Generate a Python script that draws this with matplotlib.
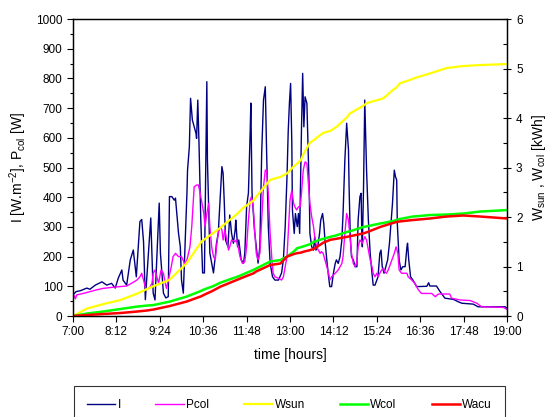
import numpy as np
import matplotlib
matplotlib.use("Agg")
import matplotlib.pyplot as plt
from matplotlib.ticker import MultipleLocator

plt.rcParams.update({"font.family": "Liberation Sans", "font.size": 8.5,
                     "mathtext.fontset": "custom", "mathtext.rm": "Liberation Sans",
                     "mathtext.default": "regular"})

# time in minutes after 7:00
t_I = [0, 5, 12, 23, 28, 37, 48, 56, 64, 70, 75, 81, 83, 89, 95, 100, 105, 111, 114, 117, 120,
       129, 133, 136, 143, 145, 150, 154, 158, 160, 164, 168, 170, 175, 178, 180, 183, 189, 190,
       193, 195, 198, 201, 204, 205, 207, 209, 212, 215, 218, 220, 222, 223, 227, 230, 233, 236,
       238, 241, 244, 247, 249, 251, 253, 257, 259, 260, 263, 266, 269, 270, 273, 275, 279, 283,
       285, 288, 291, 294, 295, 297, 301, 304, 307, 310, 313, 316, 319, 321, 324, 327, 331, 335,
       341, 346, 349, 352, 355, 357, 359, 361, 363, 364, 367, 369, 372, 374, 376, 378, 379, 381,
       383, 385, 388, 389, 392, 393, 396, 399, 401, 403, 406, 409, 411, 414, 416, 418, 421, 424,
       426, 429, 432, 435, 437, 440, 443, 446, 448, 451, 454, 457, 458, 460, 462, 465, 468, 471,
       473, 476, 478, 479, 480, 482, 483, 484, 487, 490, 493, 496, 498, 501, 504, 506, 509, 511,
       513, 516, 519, 522, 525, 528, 530, 533, 535, 537, 538, 541, 544, 547, 551, 554, 555, 557,
       560, 564, 567, 570, 587, 590, 592, 603, 609, 617, 631, 639, 645, 664, 672, 717, 720]
I = [71, 82, 85, 94, 90, 104, 115, 104, 110, 94, 127, 155, 121, 104, 189, 222, 132, 318, 325, 250, 55,
     330, 77, 54, 380, 212, 77, 61, 65, 402, 402, 390, 397, 279, 233, 121, 77, 414, 491,
     570, 733, 660, 637, 615, 598, 727, 582, 323, 145, 145, 469, 789, 525, 212, 178, 145, 200,
     245, 280, 390, 503, 480, 380, 256, 233, 301, 340, 279, 245, 290, 323, 233, 256, 189, 178,
     212, 368, 414, 626, 717, 414, 290, 233, 178, 233, 548, 727, 772, 570, 301, 178, 132, 121,
     121, 145, 189, 301, 469, 620, 716, 783, 581, 357, 278, 345, 301, 345, 278, 525, 626, 817,
     637, 738, 716, 637, 413, 278, 233, 222, 267, 222, 233, 278, 323, 345, 312, 256, 189, 132,
     99, 99, 144, 177, 189, 177, 200, 256, 345, 525, 649, 559, 435, 267, 200, 189, 166, 166,
     323, 402, 413, 290, 233, 435, 570, 727, 491, 323, 211, 144, 104, 104, 121, 132, 211, 222,
     166, 144, 166, 189, 245, 323, 379, 491, 469, 458, 312, 189, 155, 166, 166, 233, 245, 189,
     132, 121, 110, 99, 100, 112, 101, 101, 82, 60, 56, 48, 43, 40, 31, 31, 26]

t_P = [0, 2, 4, 6, 17, 28, 39, 50, 67, 78, 89, 97, 106, 111, 114, 117, 121, 127, 131, 133, 136,
       139, 142, 146, 150, 153, 155, 158, 163, 166, 170, 175, 180, 185, 189, 194, 197, 201, 205,
       208, 211, 214, 217, 219, 222, 225, 227, 230, 233, 236, 238, 241, 244, 247, 249, 252, 255,
       258, 260, 263, 269, 271, 274, 277, 281, 285, 288, 291, 294, 296, 299, 301, 304, 307, 310,
       313, 316, 319, 321, 324, 327, 330, 332, 335, 341, 346, 349, 352, 355, 357, 360, 363, 366,
       368, 371, 374, 377, 379, 382, 385, 388, 390, 393, 396, 399, 401, 404, 407, 410, 412, 415,
       418, 421, 424, 426, 429, 435, 440, 446, 448, 451, 454, 457, 460, 462, 465, 468, 471, 473,
       476, 480, 484, 487, 490, 493, 496, 498, 501, 504, 506, 509, 512, 515, 517, 520, 523, 529,
       533, 536, 539, 541, 545, 554, 556, 562, 567, 573, 578, 595, 601, 606, 625, 628, 642, 659,
       670, 678, 714, 720]
Pcol = [58, 68, 58, 71, 76, 82, 88, 93, 97, 99, 101, 110, 121, 132, 144, 121, 90, 95, 110, 144, 155,
        132, 110, 155, 144, 110, 93, 121, 166, 200, 211, 200, 200, 177, 189, 233, 301, 435, 441,
        441, 413, 379, 345, 301, 345, 379, 301, 233, 200, 189, 233, 278, 301, 290, 256, 290, 256,
        222, 233, 256, 250, 256, 233, 200, 177, 183, 233, 323, 390, 402, 368, 301, 211, 189, 211,
        323, 435, 491, 491, 413, 278, 189, 144, 132, 127, 121, 132, 166, 200, 278, 390, 424, 379,
        368, 357, 368, 368, 413, 491, 519, 514, 458, 379, 334, 301, 267, 233, 222, 211, 217, 211,
        189, 166, 144, 121, 132, 144, 155, 177, 200, 278, 345, 323, 256, 211, 177, 166, 183, 233,
        256, 245, 267, 256, 222, 189, 166, 144, 132, 144, 132, 144, 155, 161, 149, 144, 155, 189,
        211, 233, 211, 155, 144, 144, 132, 121, 110, 88, 76, 76, 65, 74, 74, 60, 54, 52,
        43, 31, 29, 22]

t_W = [0, 23, 50, 78, 106, 122, 133, 160, 188, 213, 216, 232, 244, 260, 272, 282, 299, 304, 327,
       344, 355, 366, 372, 378, 383, 393, 400, 415, 427, 437, 455, 459, 482, 487, 510, 515, 531,
       537, 542, 564, 565, 592, 620, 647, 648, 675, 720]
Wsun = [0, 0.15, 0.24, 0.32, 0.45, 0.54, 0.6, 0.73, 1.06, 1.5, 1.53, 1.67, 1.78, 1.94, 2.06, 2.18,
        2.33, 2.41, 2.75, 2.81, 2.88, 3.02, 3.08, 3.15, 3.29, 3.5, 3.56, 3.7, 3.74, 3.82, 4.02, 4.09,
        4.25, 4.3, 4.38, 4.4, 4.57, 4.62, 4.7, 4.79, 4.8, 4.9, 5.01, 5.05, 5.05, 5.07, 5.09]
Wcol = [0, 0.05, 0.09, 0.14, 0.19, 0.21, 0.22, 0.29, 0.39, 0.51, 0.53, 0.6, 0.67, 0.74, 0.79, 0.84,
        0.93, 0.96, 1.1, 1.13, 1.2, 1.3, 1.37, 1.39, 1.41, 1.45, 1.5, 1.56, 1.6, 1.63, 1.7, 1.71,
        1.8, 1.81, 1.87, 1.88, 1.92, 1.94, 1.96, 2.01, 2.01, 2.04, 2.05, 2.07, 2.07, 2.11, 2.14]
Wacu = [0, 0.02, 0.04, 0.06, 0.09, 0.11, 0.13, 0.2, 0.29, 0.4, 0.42, 0.51, 0.59, 0.67, 0.73, 0.78,
        0.86, 0.9, 1.03, 1.06, 1.2, 1.25, 1.27, 1.28, 1.3, 1.33, 1.36, 1.48, 1.54, 1.56, 1.6, 1.61,
        1.67, 1.69, 1.8, 1.82, 1.88, 1.9, 1.91, 1.94, 1.94, 1.97, 2.01, 2.03, 2.03, 2.01, 1.97]

tick_labels = ["7:00", "8:12", "9:24", "10:36", "11:48", "13:00", "14:12", "15:24",
               "16:36", "17:48", "19:00"]


def hours(m):
    return 7 + np.asarray(m) / 60.0


fig = plt.figure(figsize=(5.49, 4.17), dpi=100)
ax = fig.add_axes([0.133, 0.2422, 0.7905, 0.7122])
l1, = ax.plot(hours(t_I), I, color="#000080", lw=1.0, label="I")
l2, = ax.plot(hours(t_P), Pcol, color="#FF00FF", lw=1.0, label="Pcol")
ax.set_xlim(7, 19)
ax.set_ylim(0, 1000)
ax.set_xticks(7 + np.arange(len(tick_labels)) * 1.2)
ax.set_xticklabels(tick_labels)
ax.yaxis.set_major_locator(MultipleLocator(100))
ax.yaxis.set_minor_locator(MultipleLocator(50))
ax.tick_params(direction="out", length=4, width=0.8)
ax.tick_params(which="minor", direction="out", length=2.5, width=0.8)
ax.set_xlabel("time [hours]", fontsize=10, labelpad=7)
ax.set_ylabel("I [W.m$^{-2}$], P$_{col}$ [W]", fontsize=10, labelpad=5)

ax2 = ax.twinx()
l3, = ax2.plot(hours(t_W), Wsun, color="#FFFF00", lw=1.6, label="Wsun")
l4, = ax2.plot(hours(t_W), Wcol, color="#00FF00", lw=1.8, label="Wcol")
l5, = ax2.plot(hours(t_W), Wacu, color="#FF0000", lw=1.8, label="Wacu")
ax2.set_ylim(0, 6)
ax2.yaxis.set_major_locator(MultipleLocator(1))
ax2.yaxis.set_minor_locator(MultipleLocator(0.5))
ax2.tick_params(direction="inout", length=6, width=0.8)
ax2.tick_params(which="minor", direction="in", length=3, width=0.8)
ax2.set_ylabel("W$_{sun}$ , W$_{col}$ [kWh]", fontsize=10, labelpad=5)

for a in (ax, ax2):
    for s in a.spines.values():
        s.set_linewidth(0.9)

leg = fig.legend([l1, l2, l3, l4, l5], ["I", "Pcol", "Wsun", "Wcol", "Wacu"],
                 loc="upper center", bbox_to_anchor=(0.527, 0.0744), ncol=5,
                 fontsize=8.5, frameon=True, fancybox=False, edgecolor="black",
                 handlelength=2.4, handletextpad=0.2, columnspacing=2.95,
                 borderpad=1.1, borderaxespad=0)
leg.get_frame().set_linewidth(0.8)

fig.savefig("out.png", dpi=100)
